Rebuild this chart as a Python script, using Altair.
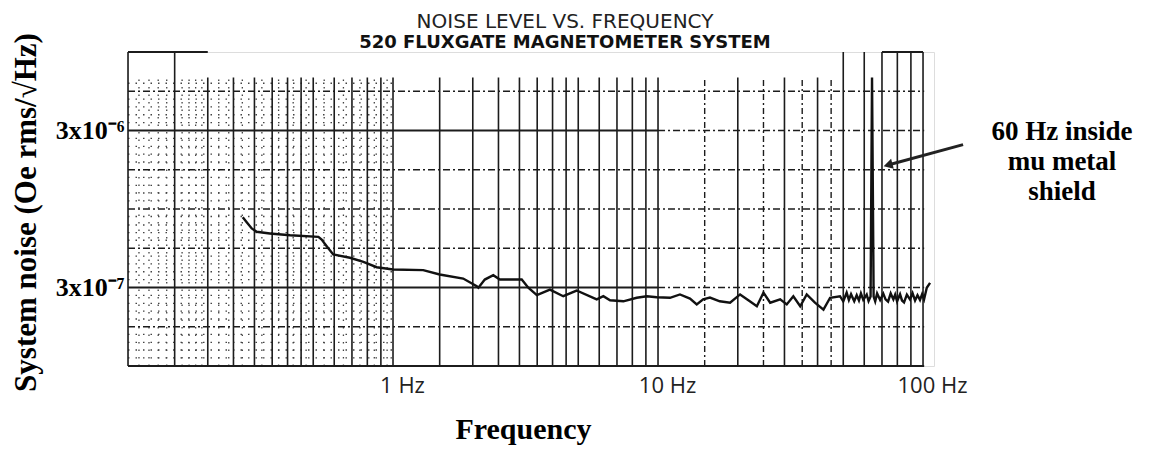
import altair as alt
import pandas as pd

# ---- data (frequency in Hz, noise in Oe rms/sqrt(Hz)) ----
freq = [0.271, 0.281, 0.293, 0.306, 0.343, 0.409, 0.523, 0.538, 0.562, 0.595,
        0.688, 0.773, 0.868, 1.00, 1.30, 1.50, 1.84, 2.07, 2.10, 2.22,
        2.39, 2.53, 3.06, 3.24, 3.49, 3.91, 4.39, 4.93, 5.87, 6.22,
        6.59, 7.40, 8.31, 9.07, 9.89, 11.1, 12.1, 13.2, 14.0, 14.8,
        15.7, 17.1, 18.7, 20.4, 22.2, 23.6, 25.0, 26.5, 28.9, 30.6,
        32.4, 34.4, 36.4, 39.1, 42.1, 44.6, 48.6, 50.0, 51.5, 52.5,
        53.5, 55.0, 56.2, 57.3, 58.3, 59.5, 61.3, 62.3, 63.4, 64.2,
        65.1, 66.0, 67.1, 68.9, 70.8, 72.2, 73.8, 75.5, 77.3, 78.5,
        79.8, 81.9, 83.3, 84.8, 86.9, 89.3, 91.3, 93.3, 95.3, 97.4,
        99.2, 100.9, 103.3, 106.3]
noise_e7 = [8.41, 7.78, 7.13, 6.79, 6.62, 6.46, 6.31, 6.06, 5.50, 4.87,
            4.64, 4.37, 4.04, 3.91, 3.87, 3.63, 3.42, 3.06, 2.99, 3.37,
            3.59, 3.37, 3.37, 2.99, 2.68, 2.91, 2.64, 2.87, 2.52, 2.64,
            2.49, 2.45, 2.58, 2.64, 2.60, 2.58, 2.71, 2.55, 2.34, 2.52,
            2.59, 2.45, 2.40, 2.71, 2.45, 2.28, 2.78, 2.40, 2.52, 2.34,
            2.64, 2.28, 2.71, 2.40, 2.17, 2.58, 2.64, 2.45, 2.78, 2.50,
            2.72, 2.45, 2.68, 2.48, 2.75, 2.50, 2.70, 2.46, 2.63, 65.3,
            2.63, 2.45, 2.75, 2.50, 2.74, 2.52, 2.44, 2.75, 2.52, 2.70,
            2.45, 2.72, 2.48, 2.41, 2.70, 2.52, 2.76, 2.48, 2.68, 2.50,
            2.72, 2.52, 2.99, 3.21]

x_ticks = [1, 10, 100]
y_ticks = [3e-7, 3e-6]

title_lines = ["NOISE LEVEL VS. FREQUENCY", "520 FLUXGATE MAGNETOMETER SYSTEM"]
note_text = "60 Hz inside\nmu metal\nshield"

X_LO, X_HI = 0.1, 110
Y_LO, Y_HI = 9.487e-8, 9.487e-6
Y_MID_TOP = 6.53e-6

# chart-paper grid (frequencies / levels of the printed lines)
v_full = [0.1, 0.15, 50, 60, 70, 80, 90, 100]
v_part = [0.2, 0.25, 0.3, 0.35, 0.4, 0.45, 0.5, 0.6, 0.7, 0.8, 0.9, 1,
          1.5, 2, 2.5, 3, 3.5, 4, 4.5, 5, 6, 7, 8, 9, 10, 20, 30, 40]
v_dotted = [15, 25, 35, 45]
h_solid = [3e-7, 3e-6]
h_dashdot = [1.687e-7, 5.335e-7, 9.487e-7, 1.687e-6, 5.335e-6]
fine_v = [0.11, 0.12, 0.13, 0.14, 0.16, 0.17, 0.18, 0.19, 0.22, 0.24, 0.27,
          0.32, 0.37, 0.42, 0.47, 0.55, 0.65, 0.75, 0.85, 0.95]
fine_h = [1.07e-7, 1.20e-7, 1.34e-7, 1.51e-7, 1.89e-7, 2.12e-7, 2.38e-7, 2.67e-7,
          3.37e-7, 3.78e-7, 4.24e-7, 4.75e-7, 6.0e-7, 6.7e-7, 7.5e-7, 8.5e-7,
          1.07e-6, 1.20e-6, 1.34e-6, 1.51e-6, 1.89e-6, 2.12e-6, 2.38e-6, 2.67e-6,
          3.37e-6, 3.78e-6, 4.24e-6, 4.75e-6, 6.0e-6]

# annotation arrow (tail, head) in data units
arrow_f = [141.6, 73.8]
arrow_v = [2.44e-6, 1.81e-6]

XS = alt.Scale(type="log", domain=[X_LO, X_HI], nice=False)
YS = alt.Scale(type="log", domain=[Y_LO, Y_HI], nice=False)

AX = alt.Axis(values=x_ticks, labelExpr="datum.value + ' Hz'",
              domain=False, ticks=False, grid=False, labelFlush=False,
              labelFont="Open Sans", labelFontSize=22, labelColor="#222",
              labelPadding=9, labelOffset=9,
              title="Frequency", titleFont="Liberation Serif",
              titleFontSize=30, titleFontWeight="bold", titleColor="#000",
              titleX=395, titleY=48)
AY = alt.Axis(values=y_ticks,
              labelExpr="datum.value > 1e-6 ? '3x10⁻⁶' : '3x10⁻⁷'",
              domain=False, ticks=False, grid=False,
              labelFont="Liberation Serif", labelFontSize=26,
              labelFontWeight="bold", labelColor="#000", labelPadding=4,
              title="System noise (Oe rms/√Hz)", titleFont="Liberation Serif",
              titleFontSize=31, titleFontWeight="bold", titleColor="#000",
              titleX=-86, titleY=160)

GRID = "#1c1c1c"


def xq(field):
    return alt.X(field, type="quantitative", scale=XS, axis=AX)


def yq(field):
    return alt.Y(field, type="quantitative", scale=YS, axis=AY)


# vertical lines
vdf = pd.DataFrame(
    [{"f": f, "y0": Y_LO, "y1": Y_HI} for f in v_full]
    + [{"f": f, "y0": Y_LO, "y1": Y_MID_TOP} for f in v_part]
)
vlines = alt.Chart(vdf).mark_rule(color=GRID, strokeWidth=1.6).encode(
    x=xq("f"), y=yq("y0"), y2="y1")

vdot = alt.Chart(pd.DataFrame({"f": v_dotted, "y0": [Y_LO] * 4, "y1": [Y_MID_TOP] * 4})).mark_rule(
    color=GRID, strokeWidth=1.4, strokeDash=[6, 3, 2, 3]).encode(x=xq("f"), y=yq("y0"), y2="y1")

# fine dotted texture in the first decade
fvdf = pd.DataFrame({"f": fine_v, "y0": [Y_LO] * len(fine_v), "y1": [Y_MID_TOP] * len(fine_v)})
fine_vl = alt.Chart(fvdf).mark_rule(color="#444", strokeWidth=1.3, strokeDash=[1.5, 6]).encode(
    x=xq("f"), y=yq("y0"), y2="y1")
fhdf = pd.DataFrame({"v": fine_h, "x0": [0.1] * len(fine_h), "x1": [1.0] * len(fine_h)})
fine_hl = alt.Chart(fhdf).mark_rule(color="#444", strokeWidth=1.3, strokeDash=[1.5, 6]).encode(
    y=yq("v"), x=xq("x0"), x2="x1")

# horizontal lines
hs = pd.DataFrame({"v": h_solid + [Y_LO], "x0": [0.1, 0.1, 0.1], "x1": [10, 10, 101]})
hsolid = alt.Chart(hs).mark_rule(color=GRID, strokeWidth=1.8).encode(y=yq("v"), x=xq("x0"), x2="x1")
hs2 = pd.DataFrame({"v": h_solid, "x0": [10, 10], "x1": [101, 101]})
hsolid2 = alt.Chart(hs2).mark_rule(color=GRID, strokeWidth=1.5, strokeDash=[7, 3, 2, 3]).encode(
    y=yq("v"), x=xq("x0"), x2="x1")
hd = pd.DataFrame({"v": h_dashdot, "x0": [0.1] * 5, "x1": [101] * 5})
hdash = alt.Chart(hd).mark_rule(color=GRID, strokeWidth=1.5, strokeDash=[7, 3, 2, 3]).encode(
    y=yq("v"), x=xq("x0"), x2="x1")
top_seg = pd.DataFrame({"v": [Y_HI, Y_HI], "x0": [0.1, 70], "x1": [0.2, 100]})
htop = alt.Chart(top_seg).mark_rule(color=GRID, strokeWidth=1.8).encode(y=yq("v"), x=xq("x0"), x2="x1")

# the measured noise curve
ddf = pd.DataFrame({"f": freq, "v": [n * 1e-7 for n in noise_e7]})
curve = alt.Chart(ddf).mark_line(color="#111", strokeWidth=2.4).encode(x=xq("f"), y=yq("v"))

# annotation
adf = pd.DataFrame({"f": [arrow_f[0]], "v": [arrow_v[0]], "f2": [arrow_f[1]], "v2": [arrow_v[1]]})
arrow_line = alt.Chart(adf).mark_rule(color="#222", strokeWidth=3).encode(
    x=xq("f"), y=yq("v"), x2="f2", y2="v2")
arrow_head = alt.Chart(pd.DataFrame({"f": [arrow_f[1]], "v": [arrow_v[1]]})).mark_point(
    shape="triangle-up", filled=True, color="#222", size=110, angle=255, opacity=1).encode(
    x=xq("f"), y=yq("v"))
note = alt.Chart(pd.DataFrame({"t": [note_text]})).mark_text(
    lineBreak="\n", font="Liberation Serif", fontSize=27, fontWeight="bold",
    align="center", baseline="alphabetic", lineHeight=30, color="#000").encode(
    x=alt.value(934), y=alt.value(88), text="t:N")

# two-line heading
t1 = alt.Chart(pd.DataFrame({"t": [title_lines[0]]})).mark_text(
    font="DejaVu Sans", fontSize=20, fontWeight="normal", color="#222",
    align="center", baseline="middle").encode(x=alt.value(437), y=alt.value(-30), text="t:N")
t2 = alt.Chart(pd.DataFrame({"t": [title_lines[1]]})).mark_text(
    font="DejaVu Sans", fontSize=18, fontWeight="bold", color="#111",
    align="center", baseline="middle").encode(x=alt.value(437), y=alt.value(-9), text="t:N")

chart = alt.layer(
    fine_vl, fine_hl, vlines, vdot, hdash, hsolid2, hsolid, htop,
    curve, arrow_line, arrow_head, note, t1, t2
).properties(
    width=806, height=314,
    padding={"left": 120, "top": 44, "right": 216, "bottom": 90},
    autosize=alt.AutoSizeParams(type="none"),
).configure_view(stroke=None).configure(background="white")

chart.save("out.html", embed_options={"renderer": "svg", "actions": False})
